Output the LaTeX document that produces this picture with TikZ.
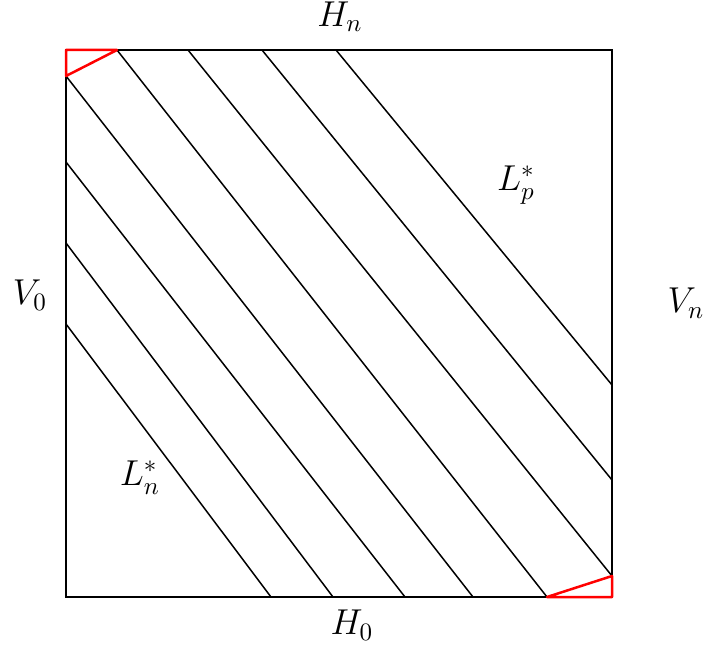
\documentclass[tikz,border=0pt]{standalone}
\begin{document}
\begin{tikzpicture}[x=0.4pt,y=-0.4pt,
  edge/.style={line width=0.6pt,black},
  redline/.style={line width=1pt,red,line join=round},
  lab/.style={inner sep=0pt,font=\fontsize{14}{16}\selectfont}]
\useasboundingbox (0,0) rectangle (705,646);
\coordinate (A) at (66,50);
\coordinate (B) at (612,50);
\coordinate (C) at (612,597);
\coordinate (D) at (66,597);
\draw[edge] (A) -- (B) -- (C) -- (D) -- cycle;
% left to bottom
\coordinate (l1) at (66,324); \coordinate (b1) at (271,597);
\coordinate (l2) at (66,243); \coordinate (b2) at (333,597);
\coordinate (l3) at (66,162); \coordinate (b3) at (405,597);
\coordinate (l4) at (66,76);  \coordinate (b4) at (473,597);
% top to bottom/right
\coordinate (t1) at (117,50); \coordinate (b5) at (547,597);
\coordinate (t2) at (188,50); \coordinate (r1) at (612,576);
\coordinate (t3) at (262,50); \coordinate (r2) at (612,480);
\coordinate (t4) at (336,50); \coordinate (r3) at (612,385);
\draw[edge] (l1)--(b1) (l2)--(b2) (l3)--(b3) (l4)--(b4)
  (t1)--(b5) (t2)--(r1) (t3)--(r2) (t4)--(r3);
\draw[redline] (A) -- (t1) -- (l4) -- cycle;
\draw[redline] (C) -- (b5) -- (r1) -- cycle;
\node[lab] (hn) at (340,17) {$H_n$};
\node[lab] (h0) at (352,625) {$H_0$};
\node[lab] (v0) at (30,295) {$V_0$};
\node[lab] (vn) at (686,303) {$V_n$};
\node[lab] (lp) at (516,185) {$L_p^*$};
\node[lab] (ln) at (140,478) {$L_n^*$};
\end{tikzpicture}
\end{document}
